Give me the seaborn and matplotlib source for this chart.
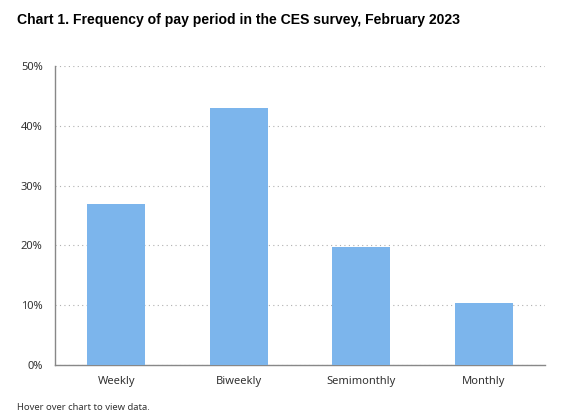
import numpy as np
import pandas as pd
import seaborn as sns
import matplotlib.pyplot as plt
from matplotlib.ticker import FuncFormatter

periods = ["Weekly", "Biweekly", "Semimonthly", "Monthly"]
shares = [26.9, 42.9, 19.7, 10.3]

df = pd.DataFrame({"period": periods, "share": shares})

sns.set_style("white")
plt.rcParams['font.family'] = ['Noto Sans', 'DejaVu Sans']

fig = plt.figure(figsize=(5.65, 4.15), dpi=100)
ax = fig.add_axes([55/565, 1-365/415, 490/565, 299/415])

sns.barplot(data=df, x="period", y="share", color="#7cb5ec", saturation=1,
            width=0.475, linewidth=0, ax=ax, zorder=3)

ax.set_ylim(0, 50)
ax.set_yticks(np.arange(0, 51, 10))
ax.yaxis.set_major_formatter(FuncFormatter(lambda v, p: f"{v:.0f}%"))
ax.grid(axis="y", color="#b0b0b0", linestyle=(0, (1, 3)), linewidth=0.8, zorder=0)
ax.set_xlabel("")
ax.set_ylabel("")

for s in ["top", "right"]:
    ax.spines[s].set_visible(False)
ax.spines["left"].set_color("#888888")
ax.spines["bottom"].set_color("#888888")
ax.spines["left"].set_linewidth(1)
ax.spines["bottom"].set_linewidth(1)

ax.tick_params(axis="y", length=8, color="#ccd6eb", width=1, labelsize=8, labelcolor="#333333", pad=1)
ax.tick_params(axis="x", length=0, labelsize=8, labelcolor="#333333", pad=8)

fig.text(17/565, 1-20/415, "Chart 1. Frequency of pay period in the CES survey, February 2023",
         fontsize=10.1, fontweight="bold", family="Liberation Sans", color="black",
         va="center", ha="left")
fig.text(17/565, 1-407/415, "Hover over chart to view data.",
         fontsize=6.8, color="#333333", va="center", ha="left")

fig.savefig("out.png", dpi=100)
